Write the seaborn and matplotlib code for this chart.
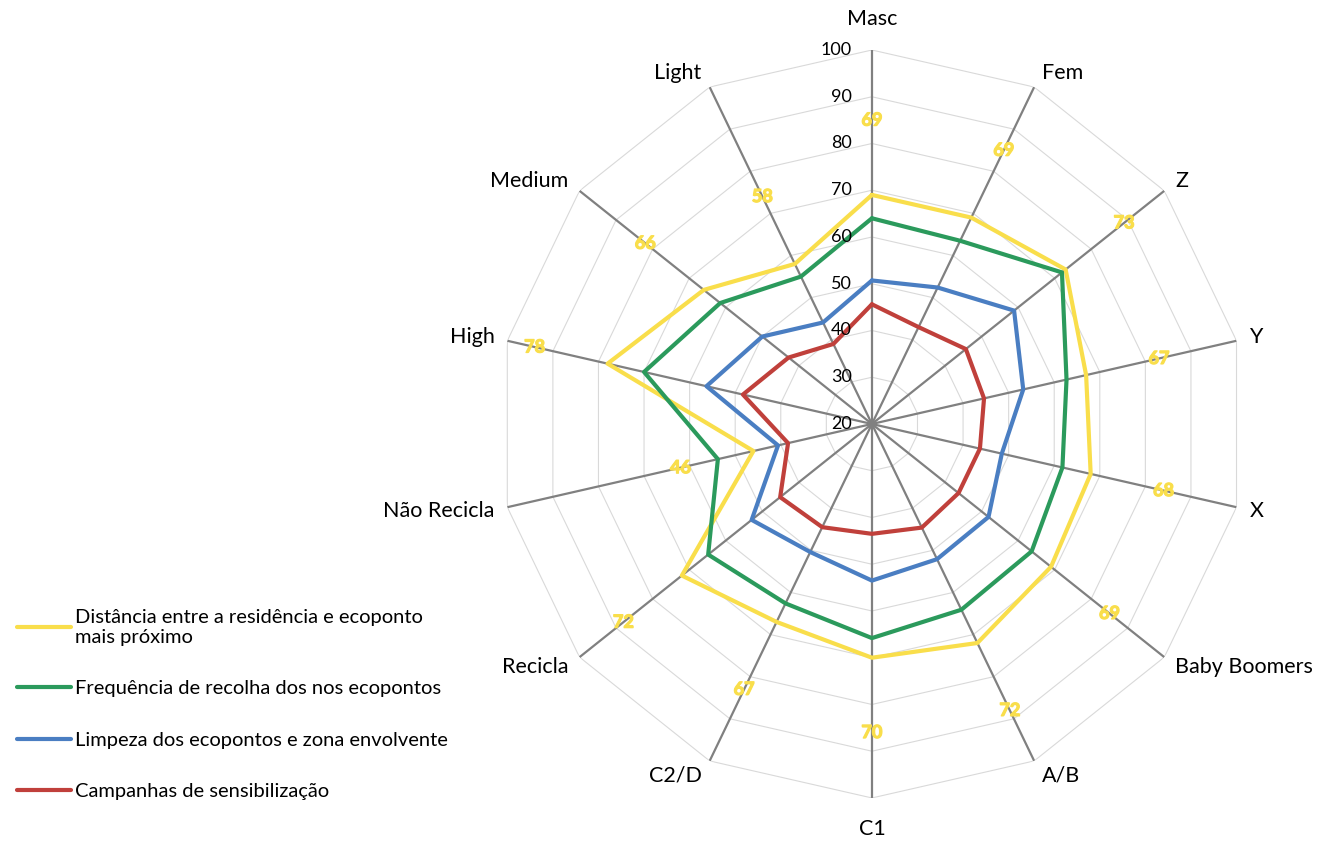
# -*- coding: utf-8 -*-
import numpy as np
import matplotlib
matplotlib.use("Agg")
import matplotlib.pyplot as plt
import matplotlib.patheffects as pe
from matplotlib.lines import Line2D
import seaborn as sns
import pandas as pd

categories = ["Masc", "Fem", "Z", "Y", "X", "Baby Boomers", "A/B", "C1",
              "C2/D", "Recicla", "Não Recicla", "High", "Medium", "Light"]

series_names = [
    "Distância entre a residência e ecoponto\nmais próximo",
    "Frequência de recolha dos nos ecopontos",
    "Limpeza dos ecopontos e zona envolvente",
    "Campanhas de sensibilização",
]

distancia = [69, 69, 73, 67, 68, 69, 72, 70, 67, 72, 46, 78, 66, 58]
frequencia = [64, 63.5, 72, 62.7, 61.8, 63.7, 64.1, 65.8, 62.6, 64.8, 53.8, 70, 61.5, 55]
limpeza = [50.7, 52.4, 58.9, 53.2, 48.5, 51.9, 52.1, 53.5, 50.4, 52.9, 40.6, 56.3, 50, 44.1]
campanhas = [45.6, 43, 45.7, 44.6, 43.7, 43.7, 44.6, 43.5, 44.5, 45.1, 38.4, 48.3, 42.8, 39]

colors = ["#F9DE4B", "#2B9A5C", "#4A7EC2", "#C0403B"]
r_ticks = [20, 30, 40, 50, 60, 70, 80, 90, 100]

FONT = "Lato"


def build_frame():
    n = len(categories)
    theta = np.linspace(0, 2 * np.pi, n, endpoint=False)
    rows = []
    for name, vals in zip(series_names, [distancia, frequencia, limpeza, campanhas]):
        # repeat the first point at 2*pi to close the polygon
        for i in range(n):
            rows.append({"serie": name, "theta": theta[i], "valor": vals[i]})
        rows.append({"serie": name, "theta": 2 * np.pi, "valor": vals[0]})
    return pd.DataFrame(rows), theta


def main():
    sns.set_theme(style="white")
    plt.rcParams["font.family"] = [FONT, "DejaVu Sans"]
    plt.rcParams["text.color"] = "black"

    df, theta = build_frame()

    fig = plt.figure(figsize=(13.25, 8.44), dpi=100)
    ax = fig.add_axes([0.3758, 0.0545, 0.5645, 0.8863], projection="polar")
    ax.set_theta_zero_location("N")
    ax.set_theta_direction(-1)
    ax.set_ylim(20, 100)
    ax.grid(False)
    ax.spines["polar"].set_visible(False)
    ax.set_xticks([])
    ax.set_yticks([])

    # polygon grid
    closed = np.append(theta, 2 * np.pi)
    for lv in r_ticks[1:]:
        ax.plot(closed, [lv] * len(closed), color="#D9D9D9", lw=0.8, zorder=1)
    ax.vlines(theta, 20, 100, color="#808080", lw=1.6, zorder=2)

    sns.lineplot(data=df, x="theta", y="valor", hue="serie", palette=colors,
                 sort=False, estimator=None, lw=3, legend=False, ax=ax, zorder=3)
    ax.set_xlabel("")
    ax.set_ylabel("")

    # radial tick labels along the first spoke
    for lv in r_ticks:
        ax.annotate(str(lv), xy=(0, lv), xytext=(-20, 0), textcoords="offset pixels",
                    ha="right", va="center", fontsize=13, color="#000000")

    # data labels of the first series
    thick = [pe.withStroke(linewidth=0.9, foreground=colors[0])]
    for t, v in zip(theta, distancia):
        ax.annotate(str(v), xy=(t, v + 16), ha="center", va="center",
                    fontsize=13, fontweight="bold", color=colors[0],
                    path_effects=thick, zorder=4)

    # category labels
    for t, lab in zip(theta, categories):
        s, c = np.sin(t), np.cos(t)
        if abs(s) < 1e-6:
            ha = "center"
            dx = 0
            dy = 31 if c > 0 else -31
        else:
            ha = "left" if s > 0 else "right"
            dx = np.sign(s) * (4 + 9 * abs(s))
            dy = 16 * c
        ax.annotate(lab, xy=(t, 100), xytext=(dx, dy), textcoords="offset pixels",
                    ha=ha, va="center", fontsize=15.5, color="#000000")

    handles = [Line2D([], [], color=col, lw=3) for col in colors]
    fig.legend(handles, series_names, loc="upper left", bbox_to_anchor=(0.002, 0.295),
               frameon=False, fontsize=14.5, handlelength=2.7, handletextpad=0.2,
               labelspacing=1.7, borderpad=0.2, labelcolor="black")

    fig.savefig("out.png", dpi=100, facecolor="white")


if __name__ == "__main__":
    main()
